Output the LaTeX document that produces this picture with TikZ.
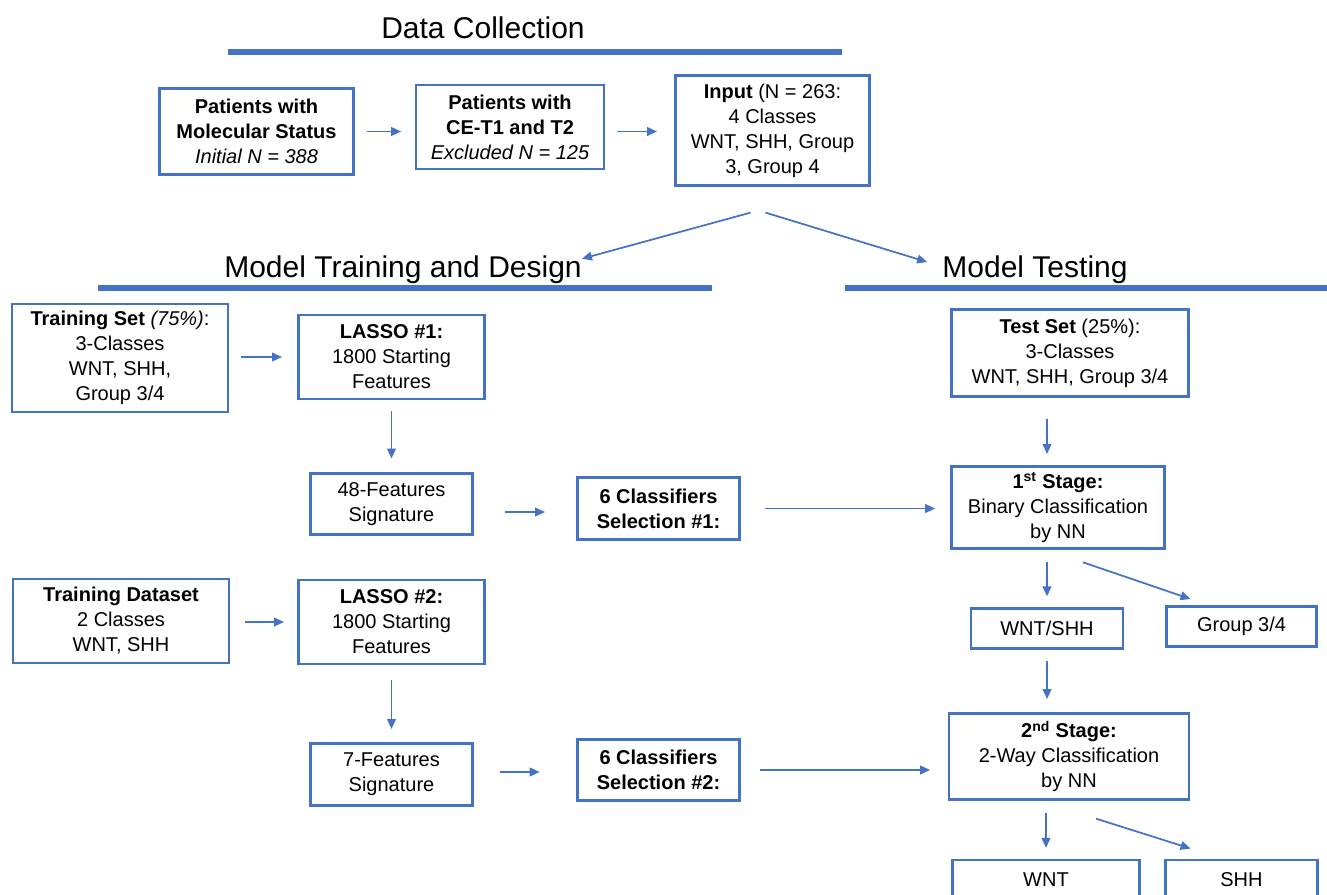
\documentclass[tikz,border=0pt]{standalone}
\usepackage{fontspec}
\setmainfont{Liberation Sans}
\usetikzlibrary{arrows.meta,calc}
\definecolor{boxblue}{RGB}{68,114,196}

\begin{document}
\begin{tikzpicture}[x=0.75pt,y=-0.75pt]
    \tikzset{box/.style = {draw=boxblue, line width=2.2pt, align=center, inner sep=0pt,
        font=\fontsize{15}{18.75}\selectfont}}
    \tikzset{link/.style = {draw=boxblue, line width=1.3pt, -{Triangle[length=7.5pt,width=6.5pt]}}}
    \tikzset{heading/.style = {font=\fontsize{22.5}{27}\selectfont, inner sep=0pt}}
    \tikzset{bar/.style = {draw=boxblue, line width=4.5pt}}

    \useasboundingbox (0,0) rectangle (1327,895);
    \clip (0,0) rectangle (1327,895);

    % headings
    \node[heading] (dtitle) at (483,28) {Data Collection};
    \node[heading] (mtitle) at (403,270) {Model Training and Design};
    \node[heading] (ttitle) at (1035,270) {Model Testing};
    \draw[bar] (228,52) -- (842,52);
    \draw[bar] (98,288) -- (712,288);
    \draw[bar] (845,288) -- (1327,288);

    % vertices
    \node[box, minimum width=146pt, minimum height=64pt] (pms) at (256.5,131.5)
        {\textbf{Patients with}\\\textbf{Molecular Status}\\\textit{Initial N = 388}};
    \node[box, minimum width=141pt, minimum height=63pt] (ce) at (510,127)
        {\textbf{Patients with}\\\textbf{CE-T1 and T2}\\\textit{Excluded N = 125}};
    \node[box, minimum width=145pt, minimum height=82pt] (input) at (772.5,130.5)
        {\textbf{Input} (N = 263:\\4 Classes\\WNT, SHH, Group\\3, Group 4};

    \node[box, minimum width=162pt, minimum height=81pt] (trainset) at (120,358)
        {\textbf{Training Set} \textit{(75\%)}:\\3-Classes\\WNT, SHH,\\Group 3/4};
    \node[box, minimum width=140pt, minimum height=63pt] (lasso1) at (391.5,357)
        {\textbf{LASSO \#1:}\\1800 Starting\\Features};
    \node[box, minimum width=122pt, minimum height=46pt] (sig48) at (391.5,504)
        {48-Features\\Signature};
    \node[box, minimum width=122pt, minimum height=46pt] (sel1) at (658.5,508.5)
        {\textbf{6 Classifiers}\\\textbf{Selection \#1:}};

    \node[box, minimum width=162pt, minimum height=63pt] (traindata) at (121,621)
        {\textbf{Training Dataset}\\2 Classes\\WNT, SHH};
    \node[box, minimum width=139pt, minimum height=63pt] (lasso2) at (391.5,622)
        {\textbf{LASSO \#2:}\\1800 Starting\\Features};
    \node[box, minimum width=122pt, minimum height=46pt] (sig7) at (391.5,774.5)
        {7-Features\\Signature};
    \node[box, minimum width=122pt, minimum height=46pt] (sel2) at (658.5,770)
        {\textbf{6 Classifiers}\\\textbf{Selection \#2:}};

    \node[box, minimum width=178pt, minimum height=65pt] (testset) at (1070,353)
        {\textbf{Test Set} (25\%):\\3-Classes\\WNT, SHH, Group 3/4};
    \node[box, minimum width=160pt, minimum height=62pt] (stage1) at (1058,507.5)
        {\textbf{1\textsuperscript{st} Stage:}\\Binary Classification\\by NN};
    \node[box, minimum width=114pt, minimum height=30pt] (wntshh) at (1047,628.5) {WNT/SHH};
    \node[box, minimum width=113pt, minimum height=30pt] (g34) at (1241.5,626.5) {Group 3/4};
    \node[box, minimum width=180pt, minimum height=64pt] (stage2) at (1069,756.5)
        {\textbf{2\textsuperscript{nd} Stage:}\\2-Way Classification\\by NN};
    \node[box, minimum width=140pt, minimum height=30pt] (wnt) at (1046,880) {WNT};
    \node[box, minimum width=114pt, minimum height=30pt] (shh) at (1241.5,880) {SHH};

    % edges
    \draw[link, shorten <=9pt, shorten >=10pt] (pms.east) -- (pms.east -| ce.west);
    \draw[link, shorten <=9pt, shorten >=13pt] (ce.east |- pms.east) -- (pms.east -| input.west);
    \draw[link] ($(input.south)+(-22,26)$) -- ($(mtitle.north east)+(0,3)$);
    \draw[link] ($(input.south)+(-7,26)$) -- ($(ttitle.west)+(-15,-8)$);

    \draw[link, shorten <=9pt, shorten >=11pt] (trainset.east |- lasso1.east) -- (lasso1.west);
    \draw[link, shorten <=8pt, shorten >=10pt] (lasso1.south) -- (sig48.north);
    \draw[link, shorten <=23pt, shorten >=23pt] (sig48.east |- 0,512) -- (sel1.west |- 0,512);
    \draw[link, shorten <=18pt, shorten >=11pt] (sel1.east) -- (stage1.west |- sel1.east);

    \draw[link, shorten <=11pt, shorten >=10pt] (traindata.east |- lasso2.east) -- (lasso2.west);
    \draw[link, shorten <=11pt, shorten >=10pt] (lasso2.south) -- (sig7.north);
    \draw[link, shorten <=19pt, shorten >=27pt] (sig7.east |- 0,772) -- (sel2.west |- 0,772);
    \draw[link, shorten <=14pt, shorten >=13pt] (sel2.east) -- (stage2.west |- sel2.east);

    \draw[link, shorten <=16pt, shorten >=8pt] (wntshh.north |- testset.south) -- (wntshh.north |- stage1.north);
    \draw[link, shorten <=9pt, shorten >=8pt] (wntshh.north |- stage1.south) -- (wntshh.north);
    \draw[link] ($(stage1.south)+(25,12)$) -- ($(g34.north)+(-51,-6)$);
    \draw[link, shorten <=8pt, shorten >=10pt] (wntshh.south) -- (wntshh.south |- stage2.north);
    \draw[link, shorten <=9pt, shorten >=8pt] (wnt.north |- stage2.south) -- (wnt.north);
    \draw[link] ($(stage2.south)+(27,18)$) -- ($(shh.north)+(-51,-10)$);
\end{tikzpicture}
\end{document}
